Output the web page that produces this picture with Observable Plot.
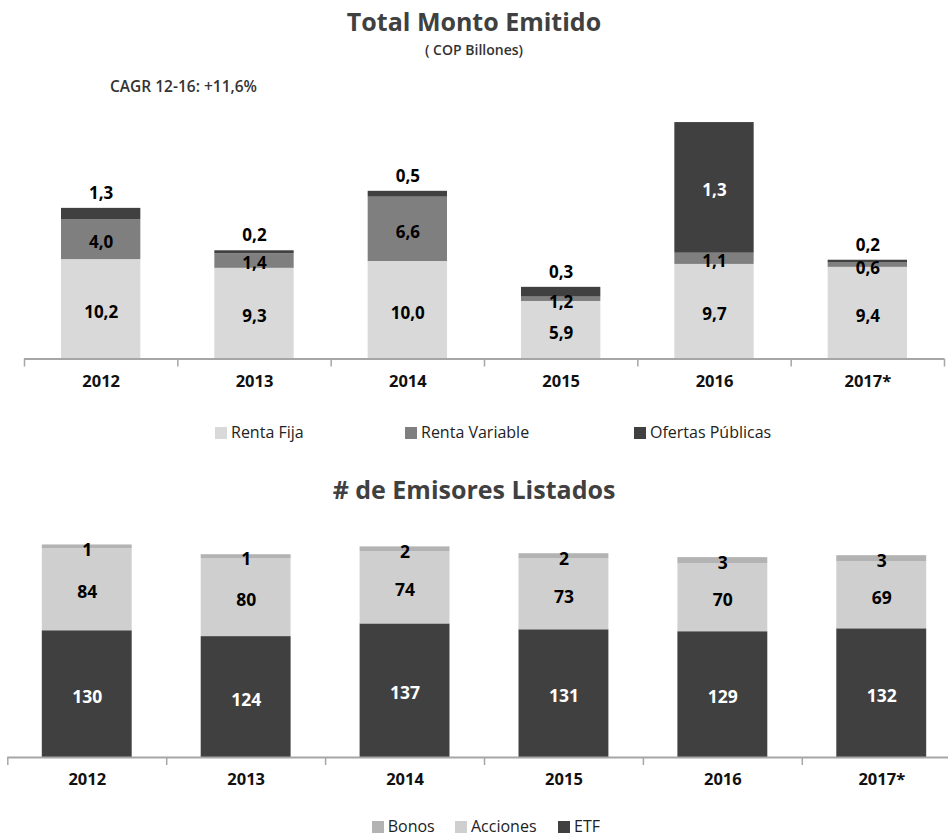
<!DOCTYPE html>
<html>
<head>
<meta charset="utf-8">
<script src="https://cdn.jsdelivr.net/npm/d3@7"></script>
<script src="https://cdn.jsdelivr.net/npm/@observablehq/plot@0.6"></script>
<style>
  html, body { margin: 0; padding: 0; background: #fff; }
  #page { position: relative; width: 948px; height: 839px; overflow: hidden; font-family: "Open Sans", sans-serif; }
  .abs { position: absolute; white-space: nowrap; }
  .title { left: 0; width: 948px; text-align: center; font-weight: 700; font-size: 25px; color: #404040; line-height: 1; }
  .sub { left: 0; width: 948px; text-align: center; font-weight: 600; font-size: 14px; color: #333; line-height: 1; }
  .cagr { font-weight: 600; font-size: 15.5px; color: #333; line-height: 1; }
  .leg { display: flex; align-items: center; font-size: 16px; color: #222; line-height: 1.2; }
  .sw { display: inline-block; width: 12px; height: 12px; margin-right: 4px; }
  svg { position: absolute; left: 0; }
</style>
</head>
<body>
<div id="page"></div>
<script>
// ---------- Data: Total Monto Emitido (COP Billones) ----------
const years = ["2012", "2013", "2014", "2015", "2016", "2017*"];
const montoSeries = ["Renta Fija", "Renta Variable", "Ofertas Públicas"];
const montoColors = ["#d9d9d9", "#7f7f7f", "#404040"];
// bar heights as drawn
const rentaFija = [10.2, 9.3, 10.0, 5.9, 9.7, 9.4];
const rentaVariable = [4.1, 1.5, 6.6, 0.45, 1.15, 0.45];
const ofertasPublicas = [1.15, 0.3, 0.6, 1.0, 13.4, 0.28];
// value labels as printed
const rentaFijaLabels = ["10,2", "9,3", "10,0", "5,9", "9,7", "9,4"];
const rentaVariableLabels = ["4,0", "1,4", "6,6", "1,2", "1,1", "0,6"];
const ofertasLabels = ["1,3", "0,2", "0,5", "0,3", "1,3", "0,2"];
const cagrText = "CAGR 12-16: +11,6%";

// ---------- Data: # de Emisores Listados ----------
const emisoresSeries = ["ETF", "Acciones", "Bonos"];
const emisoresColors = ["#404040", "#cfcfcf", "#b3b3b3"];
const etf = [130, 124, 137, 131, 129, 132];
const acciones = [84, 80, 74, 73, 70, 69];
const bonosHeights = [4, 4, 5, 5, 6, 6];
const bonosLabels = ["1", "1", "2", "2", "3", "3"];

(function () {
const page = document.getElementById("page");
function addDiv(cls, text, style) {
  const d = document.createElement("div");
  d.className = "abs " + cls;
  d.textContent = text;
  Object.assign(d.style, style);
  page.appendChild(d);
  return d;
}
function addLegend(items, colors, positions, cy) {
  items.forEach((name, k) => {
    const d = document.createElement("div");
    d.className = "abs leg";
    d.style.left = positions[k] + "px";
    d.style.top = (cy - 10) + "px";
    d.style.height = "20px";
    const s = document.createElement("span");
    s.className = "sw";
    s.style.background = colors[k];
    d.appendChild(s);
    d.appendChild(document.createTextNode(name));
    page.appendChild(d);
  });
}

addDiv("title", "Total Monto Emitido", { top: "9px" });
addDiv("sub", "( COP Billones)", { top: "43px" });
addDiv("cagr", cagrText, { left: "110px", top: "79px" });

// ---------- Top chart ----------
const montoRows = [];
years.forEach((y, i) => {
  montoRows.push({ i, series: montoSeries[0], value: rentaFija[i], label: rentaFijaLabels[i] });
  montoRows.push({ i, series: montoSeries[1], value: rentaVariable[i], label: rentaVariableLabels[i] });
  montoRows.push({ i, series: montoSeries[2], value: ofertasPublicas[i], label: ofertasLabels[i] });
});
const OP = montoSeries[2];
const inside = d => d.series !== OP || d.value > 3;

const font = { fontFamily: "Open Sans", fontWeight: "bold" };

const chartTop = Plot.plot({
  width: 948, height: 300,
  marginTop: 14.75, marginBottom: 41.5, marginLeft: 24, marginRight: 4,
  x: { domain: [0, 6], axis: null, label: null },
  y: { domain: [0, 25], axis: null, label: null },
  color: { domain: montoSeries, range: montoColors },
  marks: [
    Plot.rectY(montoRows, Plot.stackY({ x1: "i", x2: d => d.i + 1, y: "value", fill: "series", insetLeft: 37, insetRight: 37 })),
    Plot.text(montoRows, Plot.stackY({ x: d => d.i + 0.5, y: "value", text: d => inside(d) ? d.label : null,
      fill: d => d.series === OP ? "white" : "black", dy: 3, fontSize: 17, ...font })),
    Plot.text(montoRows, Plot.stackY2({ x: d => d.i + 0.5, y: "value", text: d => inside(d) ? null : d.label,
      fill: "black", dy: -15, fontSize: 17, ...font })),
    Plot.ruleY([0], { stroke: "#a6a6a6", strokeWidth: 2 }),
    Plot.axisX({ ticks: d3.range(7), tickSize: 8, tickFormat: () => "", label: null, stroke: "#a6a6a6", strokeWidth: 1.5 }),
    Plot.text(years, { x: (d, i) => i + 0.5, text: d => d, frameAnchor: "bottom", dy: 28, fontSize: 16.5, fill: "#111", ...font })
  ]
});
chartTop.style.top = "100px";
page.appendChild(chartTop);

addLegend(montoSeries, montoColors, [215, 405, 634], 433);

// ---------- Bottom chart ----------
addDiv("title", "# de Emisores Listados", { top: "477px" });

const emRows = [];
years.forEach((y, i) => {
  emRows.push({ i, series: emisoresSeries[0], value: etf[i], label: String(etf[i]) });
  emRows.push({ i, series: emisoresSeries[1], value: acciones[i], label: String(acciones[i]) });
  emRows.push({ i, series: emisoresSeries[2], value: bonosHeights[i], label: bonosLabels[i] });
});

const chartBottom = Plot.plot({
  width: 948, height: 290,
  marginTop: 12.75, marginBottom: 53, marginLeft: 7.3, marginRight: 0,
  x: { domain: [0, 6], range: [7.3, 960.7], axis: null, label: null },
  y: { domain: [0, 230], axis: null, label: null },
  color: { domain: emisoresSeries, range: emisoresColors },
  marks: [
    Plot.rectY(emRows, Plot.stackY({ x1: "i", x2: d => d.i + 1, y: "value", fill: "series", insetLeft: 34.5, insetRight: 34.5 })),
    Plot.text(emRows, Plot.stackY({ x: d => d.i + 0.5, y: "value", text: "label",
      fill: d => d.series === "ETF" ? "white" : "black", dy: 3, fontSize: 17.5, ...font })),
    Plot.ruleY([0], { stroke: "#a6a6a6", strokeWidth: 2 }),
    Plot.axisX({ ticks: d3.range(7), tickSize: 8, tickFormat: () => "", label: null, stroke: "#a6a6a6", strokeWidth: 1.5 }),
    Plot.text(years, { x: (d, i) => i + 0.5, text: d => d, frameAnchor: "bottom", dy: 27.5, fontSize: 16.5, fill: "#111", ...font })
  ]
});
chartBottom.style.top = "520px";
page.appendChild(chartBottom);

addLegend(["Bonos", "Acciones", "ETF"], ["#b3b3b3", "#cfcfcf", "#404040"], [371.7, 455, 558], 827);
})();
</script>
</body>
</html>
